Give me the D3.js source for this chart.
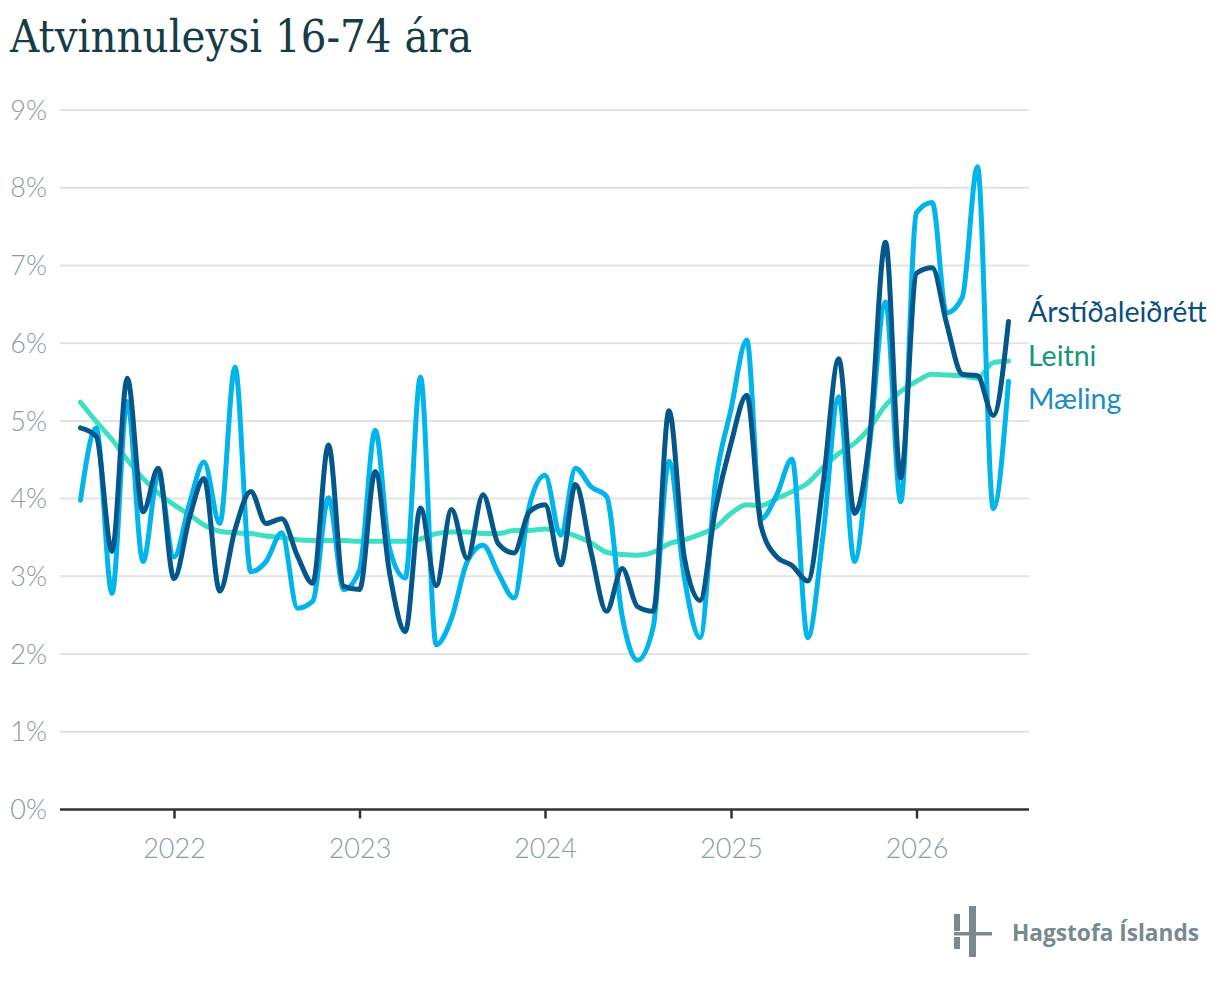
<!DOCTYPE html>
<html>
<head>
<meta charset="utf-8">
<script src="https://cdn.jsdelivr.net/npm/d3@7"></script>
<style>
  body { margin: 0; background: #fff; }
  svg { display: block; }
</style>
</head>
<body>
<svg width="1220" height="982"></svg>
<script>
const svg = d3.select("svg"),
  width = +svg.attr("width"),
  height = +svg.attr("height");

// monthly, Jul 2021 - Jul 2026
const months = d3.timeMonth.range(new Date(2021, 6, 1), new Date(2026, 7, 1));

const maeling = [
  3.98, 4.91, 2.78, 5.25, 3.19, 4.30, 3.25, 3.95, 4.47, 3.68, 5.69, 3.06,
  3.19, 3.56, 2.59, 2.68, 4.01, 2.83, 3.08, 4.88, 3.36, 2.98, 5.56, 2.12,
  2.46, 3.19, 3.40, 3.04, 2.72, 3.90, 4.30, 3.53, 4.39, 4.15, 4.03, 2.48,
  1.92, 2.35, 4.48, 2.99, 2.21, 4.18, 5.15, 6.04, 3.74, 4.05, 4.51, 2.21,
  3.52, 5.31, 3.19, 4.71, 6.53, 3.96, 7.68, 7.81, 6.39, 6.59, 8.27, 3.87, 5.51
];
const arstidaleidrett = [
  4.91, 4.80, 3.32, 5.55, 3.83, 4.39, 2.97, 3.77, 4.26, 2.81, 3.60, 4.09,
  3.68, 3.74, 3.26, 2.91, 4.69, 2.87, 2.83, 4.35, 3.05, 2.29, 3.88, 2.88,
  3.86, 3.23, 4.05, 3.42, 3.30, 3.83, 3.92, 3.15, 4.18, 3.30, 2.55, 3.10,
  2.61, 2.55, 5.13, 3.25, 2.69, 3.85, 4.71, 5.33, 3.65, 3.25, 3.14, 2.94,
  4.18, 5.80, 3.81, 4.80, 7.30, 4.27, 6.90, 6.97, 6.26, 5.60, 5.58, 5.07, 6.28
];
const leitni = [
  5.24, 4.99, 4.76, 4.50, 4.26, 4.07, 3.92, 3.79, 3.66, 3.58, 3.56, 3.55,
  3.52, 3.50, 3.47, 3.46, 3.46, 3.46, 3.45, 3.45, 3.45, 3.45, 3.48, 3.55,
  3.57, 3.57, 3.55, 3.55, 3.59, 3.59, 3.61, 3.58, 3.52, 3.43, 3.31, 3.28,
  3.27, 3.31, 3.42, 3.47, 3.54, 3.63, 3.81, 3.92, 3.91, 4.00, 4.09, 4.20,
  4.40, 4.58, 4.71, 4.91, 5.20, 5.38, 5.51, 5.60, 5.59, 5.58, 5.55, 5.75, 5.77
];

const yTicks = [0, 1, 2, 3, 4, 5, 6, 7, 8, 9];
const xTicks = [2022, 2023, 2024, 2025, 2026];

const seriesList = [
  { name: "Leitni", values: leitni, color: "#3fdfc1", label: "#14967a" },
  { name: "Mæling", values: maeling, color: "#00b5ec", label: "#1a8cc6" },
  { name: "Árstíðaleiðrétt", values: arstidaleidrett, color: "#04578a", label: "#0a4f7e" },
];

const left = 60, right = 1029;

const x = d3.scaleTime()
  .domain([months[0], months[months.length - 1]])
  .range([80.5, 1008.5]);

const y = d3.scaleLinear().domain([0, 9]).range([809.5, 110]);

// title
svg.append("text")
  .attr("x", 10)
  .attr("y", 52)
  .attr("font-family", "'DejaVu Serif Condensed', 'DejaVu Serif', serif")
  .attr("font-size", 45)
  .attr("fill", "#163c46")
  .attr("textLength", 462)
  .attr("lengthAdjust", "spacingAndGlyphs")
  .text("Atvinnuleysi 16-74 ára");

// gridlines + y labels
const grid = svg.append("g");
grid.selectAll("line")
  .data(yTicks.filter((d) => d > 0))
  .join("line")
  .attr("x1", left)
  .attr("x2", right)
  .attr("y1", (d) => y(d))
  .attr("y2", (d) => y(d))
  .attr("stroke", "#e3e3e3")
  .attr("stroke-width", 2);

grid.selectAll("text")
  .data(yTicks)
  .join("text")
  .attr("x", 47)
  .attr("y", (d) => y(d))
  .attr("dy", "0.36em")
  .attr("text-anchor", "end")
  .attr("font-family", "Lato, sans-serif")
  .attr("font-weight", 300)
  .attr("font-size", 27)
  .attr("fill", "#8a9ca4")
  .text((d) => d + "%");

// x axis
const xAxis = d3.axisBottom(x)
  .tickValues(xTicks.map((yr) => new Date(yr, 0, 1)))
  .tickFormat(d3.timeFormat("%Y"))
  .tickSize(9)
  .tickPadding(20);

const ax = svg.append("g")
  .attr("transform", `translate(0,${y(0)})`)
  .call(xAxis);
ax.select(".domain").remove();
ax.insert("line", ":first-child")
  .attr("x1", left)
  .attr("x2", right)
  .attr("stroke", "#333")
  .attr("stroke-width", 2.5);
ax.selectAll(".tick line").attr("stroke", "#333").attr("stroke-width", 2.5);
ax.selectAll(".tick text")
  .attr("font-family", "Lato, sans-serif")
  .attr("font-weight", 300)
  .attr("font-size", 27)
  .attr("fill", "#8a9ca4");

// lines
const line = d3.line()
  .x((d, i) => x(months[i]))
  .y((d) => y(d))
  .curve(d3.curveMonotoneX);

svg.append("g")
  .selectAll("path")
  .data(seriesList)
  .join("path")
  .attr("fill", "none")
  .attr("stroke", (d) => d.color)
  .attr("stroke-width", 5)
  .attr("stroke-linejoin", "round")
  .attr("stroke-linecap", "round")
  .attr("d", (d) => line(d.values));

// end labels, dodged so they don't overlap
const gap = 43.5;
const ends = seriesList
  .map((s) => ({ s, y: y(s.values[s.values.length - 1]) }))
  .sort((a, b) => a.y - b.y);
const mean = d3.mean(ends, (d) => d.y);
ends.forEach((d, i) => (d.ly = mean + (i - (ends.length - 1) / 2) * gap));

svg.append("g")
  .selectAll("text")
  .data(ends)
  .join("text")
  .attr("x", 1028)
  .attr("y", (d) => d.ly + 1)
  .attr("dy", "0.36em")
  .attr("font-family", "Lato, sans-serif")
  .attr("font-size", 28.5)
  .attr("fill", (d) => d.s.label)
  .text((d) => d.s.name);

// logo
const logo = svg.append("g").attr("fill", "#78898f");
logo.append("rect").attr("x", 954).attr("y", 914).attr("width", 6).attr("height", 17);
logo.append("rect").attr("x", 954).attr("y", 937).attr("width", 6).attr("height", 12);
logo.append("rect").attr("x", 969).attr("y", 906).attr("width", 7).attr("height", 51);
logo.append("rect").attr("x", 954).attr("y", 932).attr("width", 38).attr("height", 3.5);
logo.append("text")
  .attr("x", 1012)
  .attr("y", 941)
  .attr("font-family", "'Open Sans', 'Noto Sans', sans-serif")
  .attr("font-weight", 700)
  .attr("font-size", 24)
  .attr("textLength", 187)
  .attr("lengthAdjust", "spacingAndGlyphs")
  .text("Hagstofa Íslands");
</script>
</body>
</html>
